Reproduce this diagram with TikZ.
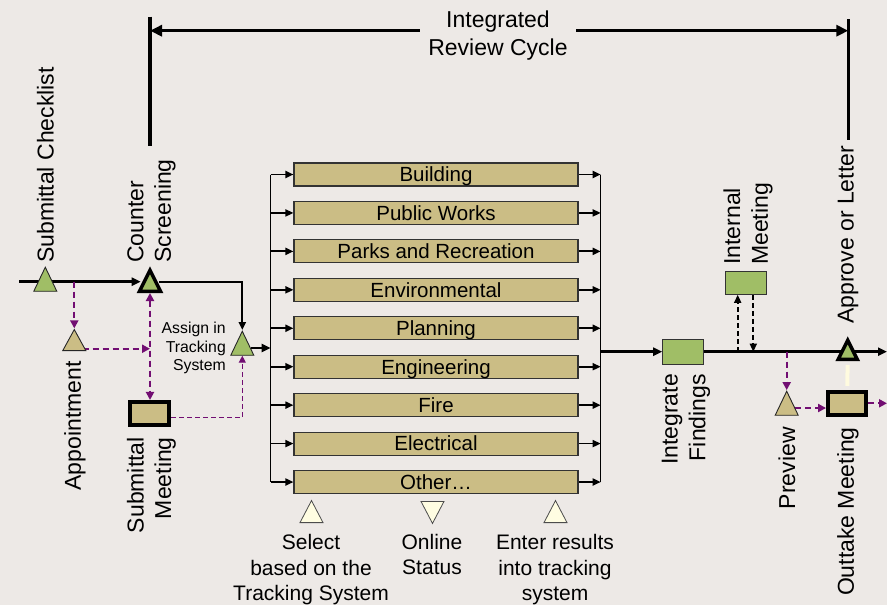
\documentclass[tikz,border=0pt]{standalone}
\usepackage{fontspec}
\setmainfont{Liberation Sans}
\usetikzlibrary{arrows.meta,shapes.geometric,calc}
\definecolor{bgc}{HTML}{EDE9E6}
\definecolor{grn}{HTML}{A0BE66}
\definecolor{tanc}{HTML}{CBBD85}
\definecolor{pur}{HTML}{720E72}
\definecolor{crm}{HTML}{FFFDE2}
\definecolor{crl}{HTML}{FFFBDF}
\pgfdeclarelayer{backfill}
\pgfdeclarelayer{lines}
\pgfsetlayers{backfill,lines,main}
\begin{document}
\begin{tikzpicture}[x=1pt,y=-1pt,
  tri/.style={isosceles triangle, isosceles triangle stretches, shape border rotate=90,
    inner sep=0pt, draw=black!85, line width=0.9pt, minimum width=23pt, minimum height=24pt},
  gtri/.style={tri, fill=grn},
  ttri/.style={tri, fill=tanc},
  ctri/.style={tri, fill=crm, draw=black!70, line width=0.8pt, minimum width=23pt, minimum height=22pt},
  boldtri/.style={line width=3.5pt, draw=black},
  bar/.style={draw=black!80, line width=1.1pt, fill=tanc, minimum width=284pt, minimum height=23pt,
    inner sep=0pt, text height=14.7pt, text depth=0pt, font=\fontsize{20.5}{24}\selectfont},
  gbox/.style={draw=black!80, line width=1pt, fill=grn, inner sep=0pt},
  tbox/.style={draw=black, line width=4pt, fill=tanc, inner sep=0pt},
  vlab/.style={rotate=90, inner sep=0pt, font=\fontsize{23}{27.6}\selectfont},
  blab/.style={inner sep=0pt, align=center, font=\fontsize{21}{25.3}\selectfont},
  mainln/.style={line width=2.8pt, -{Triangle[length=9pt,width=8pt]}},
  brarr/.style={line width=1.8pt, -{Triangle[length=8pt,width=7pt]}},
  busln/.style={line width=1.4pt},
  pdash/.style={pur, line width=2.2pt, dash pattern=on 6pt off 4pt, -{Triangle[length=8pt,width=8pt]}},
  pthin/.style={pur, line width=1.2pt, dash pattern=on 5pt off 3pt, -{Triangle[length=7pt,width=7pt]}},
  bdash/.style={black, line width=1.8pt, dash pattern=on 5pt off 3pt, -{Triangle[length=8pt,width=7pt]}}
]
\begin{pgfonlayer}{backfill}
\fill[bgc] (0,0) rectangle (887,605);
\end{pgfonlayer}
\useasboundingbox (0,0) rectangle (887,605);

% coordinates
\coordinate (startL) at (19.3,281.7);
\coordinate (lbx) at (270.7,0);
\coordinate (rbm) at (600.7,351.7);
\coordinate (endR) at (887,351.7);
\coordinate (lvtop) at (150,16.7);
\coordinate (lvbot) at (150,146);
\coordinate (rvtop) at (848.3,19.3);
\coordinate (rvbot) at (848.3,140);
\coordinate (la) at (150,30.7);
\coordinate (ra) at (848.3,30.7);

% title
\node[fill=bgc, inner xsep=8pt, inner ysep=1pt, align=center, font=\fontsize{23}{27.4}\selectfont] (title) at (498,35.5) {Integrated\\Review Cycle};

% bars
\foreach \n/\t [count=\i from 0] in {bb/Building, bpw/Public Works, bpr/Parks and Recreation, ben/Environmental, bpl/Planning, beg/Engineering, bfi/Fire, bel/Electrical, bo/Other…}
  \node[bar] (\n) at (436,{174.5+38.44*\i}) {\t};

% left nodes
\node[gtri, anchor=south] (tsc) at (45.3,291.7) {};
\node[gtri, boldtri, minimum width=21pt, minimum height=21pt, anchor=south] (tcs) at (150,293) {};
\node[gtri, anchor=south] (tas) at (242.3,355.7) {};
\node[ttri, minimum height=21pt, anchor=south] (tap) at (74.3,351) {};
\node[tbox, minimum width=38.7pt, minimum height=22.7pt] (bsm) at (149.7,413.3) {};

% right nodes
\node[gbox, minimum width=40.6pt, minimum height=25pt] (bif) at (683,351.7) {};
\node[gbox, minimum width=40.3pt, minimum height=22.6pt] (bim) at (745.9,283) {};
\node[gtri, boldtri, minimum width=19pt, minimum height=19pt, anchor=south] (tal) at (847.7,361) {};
\node[ttri, anchor=south] (tpv) at (786.7,415.7) {};
\node[tbox, minimum width=38.3pt, minimum height=22.7pt] (bom) at (847.2,403.3) {};

% cream markers
\node[ctri, anchor=south] (tsel) at (311.5,523) {};
\node[ctri, shape border rotate=270, anchor=north] (tonl) at (432.5,501) {};
\node[ctri, anchor=south] (tent) at (555.5,523) {};

% labels
\node[vlab, anchor=west, align=left] (lsc) at (45.3,263) {Submittal Checklist};
\node[vlab, anchor=west, align=left] (lcs) at (151.5,263) {Counter\\Screening};
\node[vlab, anchor=west, align=left] (lim) at (748,265) {Internal\\Meeting};
\node[vlab, anchor=west] (lal) at (848,324) {Approve or Letter};
\node[vlab, anchor=east] (lap) at (75,361) {Appointment};
\node[vlab, anchor=east, align=right] (lsm) at (151.5,437) {Submittal\\Meeting};
\node[vlab, anchor=east, align=right] (lif) at (686,374) {Integrate\\Findings};
\node[vlab, anchor=east] (lpv) at (787,427) {Preview};
\node[vlab, anchor=east] (lom) at (848,427) {Outtake Meeting};
\node[font=\fontsize{15.8}{18.5}\selectfont, align=right, inner sep=0pt, anchor=north east] (lat) at (226,322) {Assign in\\Tracking\\System};
\node[blab, anchor=north] (lsel) at (311,534.5) {Select\\based on the\\Tracking System};
\node[blab, anchor=north] (lonl) at (432,534) {Online\\Status};
\node[blab, anchor=north] (lent) at (555,534.5) {Enter results\\into tracking\\system};

\begin{pgfonlayer}{lines}
% top
\draw[line width=3.5pt] (lvtop) -- (lvbot);
\draw[line width=3.5pt] (rvtop) -- (rvbot);
\draw[line width=3pt, {Triangle[length=12pt,width=11pt]}-{Triangle[length=12pt,width=11pt]}] (la) -- (ra);
% left main
\draw[mainln] (startL) -- (startL -| tcs.west);
\draw[line width=2pt, -{Triangle[length=8pt,width=7pt]}] (tcs.east |- startL) -| (tas.north);
\draw[mainln] (tas.east) -- (tas.east -| lbx);
% buses and branches
\draw[busln] (lbx |- bb.west) -- (lbx |- bo.west);
\draw[busln] (rbm |- bb.east) -- (rbm |- bo.east);
\foreach \n in {bb,bpw,bpr,ben,bpl,beg,bfi,bel,bo} {
  \draw[brarr] (lbx |- \n.west) -- (\n.west);
  \draw[brarr] (\n.east) -- (\n.east -| rbm);
}
% right main
\draw[mainln] (rbm) -- (bif.west);
\draw[mainln] (bif.east) -- (endR);
\draw[bdash] ([xshift=-8.2pt]bim.south |- rbm) -- ([xshift=-8.2pt]bim.south);
\draw[bdash] ([xshift=7.4pt]bim.south) -- ([xshift=7.4pt]bim.south |- rbm);
\draw[pdash] (tpv.north |- rbm) -- (tpv.north);
\draw[pdash] (tpv.east) -- (tpv.east -| bom.west);
\draw[pdash] (bom.east) -- (bom.east -| endR);
\draw[crl, line width=4pt, shorten <=4pt, shorten >=4pt] (tal.south) -- (bom.north);
% left purple
\draw[pdash] (tap.north |- startL) -- (tap.north);
\draw[pdash] ([yshift=-5pt]tap.east) -- ([yshift=-5pt]tap.east -| tcs.south);
\draw[pdash, {Triangle[length=8pt,width=8pt]}-{Triangle[length=8pt,width=8pt]}] (tcs.south) -- (tcs.south |- bsm.north);
\draw[pthin] ([yshift=-4pt]bsm.east) -| (tas.south);
\end{pgfonlayer}
\end{tikzpicture}
\end{document}
